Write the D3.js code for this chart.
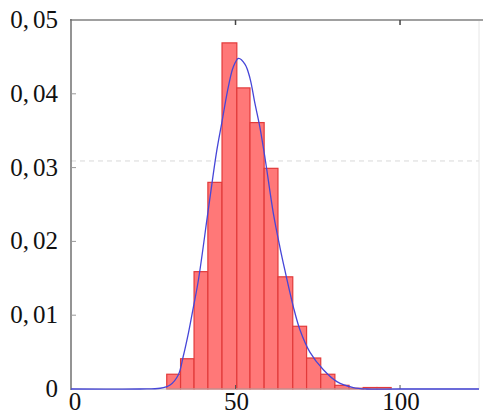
<!DOCTYPE html>
<html>
<head>
<meta charset="utf-8">
<script src="https://cdn.jsdelivr.net/npm/d3@7"></script>
<style>
  body { margin: 0; background: #fff; }
  svg { display: block; }
  .lbl { font-family: "Liberation Serif", Tinos, "Times New Roman", Times, serif; font-size: 25px; fill: #111; }
</style>
</head>
<body>
<div id="chart"></div>
<script>
// histogram bins (left/right edges) and density heights
const binEdges = [29.1, 33.3, 37.4, 41.6, 45.9, 50.4, 54.4, 58.7, 62.9, 67.4, 71.6, 75.9, 80.2, 84.5, 88.8, 93.0, 97.3];
const binDensity = [0.002, 0.0041, 0.0159, 0.028, 0.0469, 0.0408, 0.0361, 0.0299, 0.0152, 0.0085, 0.0042, 0.002, 0.0005, 0.0001, 0.0002, 0.0002];

// fitted density curve
const fitX = [0, 21, 27.1, 30.1, 32.6, 34.1, 35.7, 37.2, 38.7, 41.7, 44.3, 45.8, 47.8, 49.3, 50.9, 52.9, 54.4, 55.9, 57.4, 59.0, 61.5, 63.5, 65.0, 67.6, 69.6, 72.6, 76.7, 80.8, 85.8, 89.9, 100, 124];
const fitY = [0, 0, 0.0001, 0.00054, 0.0019, 0.0044, 0.0076, 0.0111, 0.0147, 0.0242, 0.0323, 0.036, 0.0409, 0.0436, 0.0448, 0.044, 0.0421, 0.0387, 0.0355, 0.0312, 0.0238, 0.0192, 0.0161, 0.0111, 0.008, 0.005, 0.0026, 0.001, 0.0002, 0, 0, 0];

const xTicks = [0, 50, 100];
const yTicks = [0, 0.01, 0.02, 0.03, 0.04, 0.05];
const yTickLabels = ["0", "0,01", "0,02", "0,03", "0,04", "0,05"];
const refLine = 0.0309;

const W = 483, H = 416;
const x = d3.scaleLinear().domain([0, 124]).range([71, 479]);
const y = d3.scaleLinear().domain([0, 0.05]).range([389, 20]);

const svg = d3.select("#chart").append("svg")
    .attr("width", W)
    .attr("height", H);

// dashed reference line
svg.append("line")
    .attr("x1", x(0)).attr("x2", x(124))
    .attr("y1", y(refLine)).attr("y2", y(refLine))
    .attr("stroke", "#d8d8d8")
    .attr("stroke-width", 1)
    .attr("stroke-dasharray", "5,4");

// bars
const bins = binDensity.map((d, i) => ({ x0: binEdges[i], x1: binEdges[i + 1], v: d }));
svg.append("g")
    .selectAll("rect")
    .data(bins)
    .join("rect")
    .attr("x", d => x(d.x0))
    .attr("y", d => y(d.v))
    .attr("width", d => x(d.x1) - x(d.x0))
    .attr("height", d => y(0) - y(d.v))
    .attr("fill", "#ff7878")
    .attr("stroke", "#e23a3a")
    .attr("stroke-width", 1.2);

// frame
svg.append("line").attr("x1", 71).attr("x2", 479).attr("y1", y(0)).attr("y2", y(0))
    .attr("stroke", "#bbb").attr("stroke-width", 1);
svg.append("line").attr("x1", x(124)).attr("x2", x(124)).attr("y1", y(0.05)).attr("y2", y(0))
    .attr("stroke", "#e6e6e6").attr("stroke-width", 1);
svg.append("line").attr("x1", 70).attr("x2", 483).attr("y1", y(0.05)).attr("y2", y(0.05))
    .attr("stroke", "#a0a0a0").attr("stroke-width", 2);
svg.append("line").attr("x1", 71).attr("x2", 71).attr("y1", y(0.05) - 1).attr("y2", y(0) + 1)
    .attr("stroke", "#707070").attr("stroke-width", 1.5);

// inner ticks
svg.append("g").selectAll("line")
    .data(yTicks.slice(1, -1))
    .join("line")
    .attr("x1", 71).attr("x2", 76)
    .attr("y1", d => y(d)).attr("y2", d => y(d))
    .attr("stroke", "#999");
svg.append("g").selectAll("line")
    .data(xTicks.slice(1))
    .join("line")
    .attr("x1", d => x(d)).attr("x2", d => x(d))
    .attr("y1", y(0)).attr("y2", y(0) - 4)
    .attr("stroke", "#555");
svg.append("g").selectAll("line")
    .data(xTicks.slice(1))
    .join("line")
    .attr("x1", d => x(d)).attr("x2", d => x(d))
    .attr("y1", y(0.05)).attr("y2", y(0.05) + 5)
    .attr("stroke", "#444").attr("stroke-width", 1.5);

// fitted curve
const pts = fitX.map((d, i) => [d, fitY[i]]);
svg.append("path")
    .datum(pts)
    .attr("d", d3.line().x(d => x(d[0])).y(d => y(d[1])).curve(d3.curveCatmullRom))
    .attr("fill", "none")
    .attr("stroke", "#4646d8")
    .attr("stroke-width", 1.3);

// y labels
const yl = svg.append("g").selectAll("text")
    .data(yTicks)
    .join("text")
    .attr("class", "lbl")
    .attr("x", 58)
    .attr("y", d => y(d) + 8)
    .attr("text-anchor", "end");
yl.each(function (d, i) {
    const parts = yTickLabels[i].split(",");
    const t = d3.select(this);
    if (parts.length === 1) {
        t.text(parts[0]);
    } else {
        t.append("tspan").text(parts[0] + ",");
        t.append("tspan").attr("dx", 4).text(parts[1]);
    }
});

// x labels
svg.append("g").selectAll("text")
    .data(xTicks)
    .join("text")
    .attr("class", "lbl")
    .attr("x", d => x(d) + (d === 0 ? 4 : 1))
    .attr("y", 410)
    .attr("text-anchor", "middle")
    .text(d => d);
</script>
</body>
</html>
